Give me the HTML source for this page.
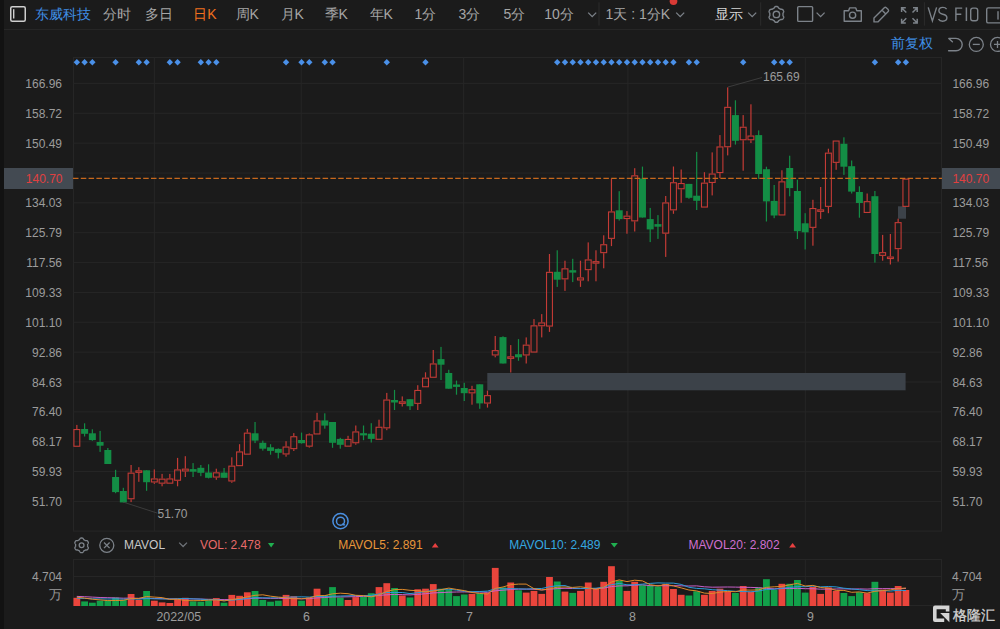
<!DOCTYPE html><html><head><meta charset="utf-8"><style>
html,body{margin:0;padding:0;width:1000px;height:629px;overflow:hidden;background:#1b1b1b;}
body{position:relative;font-family:"Liberation Sans",sans-serif;}
svg{position:absolute;left:0;top:0;}
</style></head><body>
<svg width="1000" height="629" viewBox="0 0 1000 629" font-family="Liberation Sans, sans-serif">

<rect x="0" y="0" width="4" height="629" fill="#121212"/>
<rect x="4" y="29" width="996" height="1" fill="#262626"/>
<g fill="#262626">
<rect x="73" y="57" width="869" height="1"/>
<rect x="73" y="57" width="1" height="474"/>
<rect x="941" y="57" width="1" height="474"/>
<rect x="73" y="82.90" width="869" height="1"/>
<rect x="73" y="112.76" width="869" height="1"/>
<rect x="73" y="142.62" width="869" height="1"/>
<rect x="73" y="172.48" width="869" height="1"/>
<rect x="73" y="202.34" width="869" height="1"/>
<rect x="73" y="232.20" width="869" height="1"/>
<rect x="73" y="262.06" width="869" height="1"/>
<rect x="73" y="291.92" width="869" height="1"/>
<rect x="73" y="321.78" width="869" height="1"/>
<rect x="73" y="351.64" width="869" height="1"/>
<rect x="73" y="381.50" width="869" height="1"/>
<rect x="73" y="411.36" width="869" height="1"/>
<rect x="73" y="441.22" width="869" height="1"/>
<rect x="73" y="471.08" width="869" height="1"/>
<rect x="73" y="500.94" width="869" height="1"/>
<rect x="73" y="530.60" width="869" height="1"/>
<rect x="153.90" y="57" width="1" height="474"/>
<rect x="153.90" y="559.5" width="1" height="46.5"/>
<rect x="300.70" y="57" width="1" height="474"/>
<rect x="300.70" y="559.5" width="1" height="46.5"/>
<rect x="463.10" y="57" width="1" height="474"/>
<rect x="463.10" y="559.5" width="1" height="46.5"/>
<rect x="627.40" y="57" width="1" height="474"/>
<rect x="627.40" y="559.5" width="1" height="46.5"/>
<rect x="804.80" y="57" width="1" height="474"/>
<rect x="804.80" y="559.5" width="1" height="46.5"/>
<rect x="73" y="559" width="869" height="1"/>
<rect x="73" y="576" width="869" height="1"/>
<rect x="73" y="605" width="869" height="1"/>
<rect x="73" y="559" width="1" height="47"/>
<rect x="941" y="559" width="1" height="47"/>
</g>
<rect x="4" y="168" width="69" height="21" fill="#434a52"/>
<rect x="942" y="168" width="58" height="21" fill="#434a52"/>
<rect x="487.3" y="373" width="418.3" height="17.3" fill="#3c4249"/>
<rect x="898" y="206.3" width="8" height="12.4" fill="#3c4249"/>
<rect x="76.25" y="424.90" width="1.2" height="4.10" fill="#c43b36"/>
<rect x="73.90" y="429.55" width="5.90" height="16.70" fill="none" stroke="#c43b36" stroke-width="1.1"/>
<rect x="84.00" y="423.30" width="1.2" height="13.20" fill="#138d45"/>
<rect x="81.10" y="429.00" width="7.00" height="4.80" fill="#138d45"/>
<rect x="91.75" y="429.30" width="1.2" height="11.50" fill="#138d45"/>
<rect x="88.85" y="433.30" width="7.00" height="6.80" fill="#138d45"/>
<rect x="99.49" y="430.90" width="1.2" height="21.00" fill="#138d45"/>
<rect x="96.59" y="442.00" width="7.00" height="3.70" fill="#138d45"/>
<rect x="107.24" y="448.00" width="1.2" height="16.00" fill="#138d45"/>
<rect x="104.34" y="450.00" width="7.00" height="14.00" fill="#138d45"/>
<rect x="114.99" y="469.80" width="1.2" height="23.40" fill="#138d45"/>
<rect x="112.09" y="477.00" width="7.00" height="15.10" fill="#138d45"/>
<rect x="122.74" y="487.80" width="1.2" height="14.60" fill="#138d45"/>
<rect x="119.84" y="491.00" width="7.00" height="11.40" fill="#138d45"/>
<rect x="130.49" y="465.00" width="1.2" height="7.60" fill="#c43b36"/>
<rect x="130.49" y="499.30" width="1.2" height="2.80" fill="#c43b36"/>
<rect x="128.14" y="473.15" width="5.90" height="25.60" fill="none" stroke="#c43b36" stroke-width="1.1"/>
<rect x="138.23" y="467.20" width="1.2" height="3.10" fill="#c43b36"/>
<rect x="138.23" y="472.90" width="1.2" height="8.90" fill="#c43b36"/>
<rect x="135.88" y="470.85" width="5.90" height="1.50" fill="none" stroke="#c43b36" stroke-width="1.1"/>
<rect x="145.98" y="470.30" width="1.2" height="20.50" fill="#138d45"/>
<rect x="143.08" y="470.30" width="7.00" height="11.90" fill="#138d45"/>
<rect x="153.73" y="469.40" width="1.2" height="9.00" fill="#c43b36"/>
<rect x="153.73" y="482.50" width="1.2" height="1.40" fill="#c43b36"/>
<rect x="151.38" y="478.95" width="5.90" height="3.00" fill="none" stroke="#c43b36" stroke-width="1.1"/>
<rect x="161.48" y="473.90" width="1.2" height="4.70" fill="#c43b36"/>
<rect x="161.48" y="483.70" width="1.2" height="2.60" fill="#c43b36"/>
<rect x="159.13" y="479.15" width="5.90" height="4.00" fill="none" stroke="#c43b36" stroke-width="1.1"/>
<rect x="169.23" y="473.90" width="1.2" height="4.50" fill="#c43b36"/>
<rect x="166.88" y="478.95" width="5.90" height="4.20" fill="none" stroke="#c43b36" stroke-width="1.1"/>
<rect x="176.97" y="457.90" width="1.2" height="11.50" fill="#c43b36"/>
<rect x="176.97" y="480.80" width="1.2" height="5.50" fill="#c43b36"/>
<rect x="174.62" y="469.95" width="5.90" height="10.30" fill="none" stroke="#c43b36" stroke-width="1.1"/>
<rect x="184.72" y="456.20" width="1.2" height="12.40" fill="#c43b36"/>
<rect x="184.72" y="471.50" width="1.2" height="5.50" fill="#c43b36"/>
<rect x="182.37" y="469.15" width="5.90" height="1.80" fill="none" stroke="#c43b36" stroke-width="1.1"/>
<rect x="192.47" y="463.10" width="1.2" height="13.90" fill="#138d45"/>
<rect x="189.57" y="469.10" width="7.00" height="2.60" fill="#138d45"/>
<rect x="200.22" y="465.00" width="1.2" height="11.20" fill="#138d45"/>
<rect x="197.32" y="467.80" width="7.00" height="5.00" fill="#138d45"/>
<rect x="207.97" y="464.30" width="1.2" height="14.10" fill="#138d45"/>
<rect x="205.07" y="472.50" width="7.00" height="5.30" fill="#138d45"/>
<rect x="215.71" y="468.70" width="1.2" height="3.60" fill="#c43b36"/>
<rect x="215.71" y="477.60" width="1.2" height="2.20" fill="#c43b36"/>
<rect x="213.36" y="472.85" width="5.90" height="4.20" fill="none" stroke="#c43b36" stroke-width="1.1"/>
<rect x="223.46" y="468.00" width="1.2" height="9.80" fill="#138d45"/>
<rect x="220.56" y="472.60" width="7.00" height="5.20" fill="#138d45"/>
<rect x="231.21" y="457.30" width="1.2" height="8.30" fill="#c43b36"/>
<rect x="231.21" y="481.50" width="1.2" height="1.30" fill="#c43b36"/>
<rect x="228.86" y="466.15" width="5.90" height="14.80" fill="none" stroke="#c43b36" stroke-width="1.1"/>
<rect x="238.96" y="444.20" width="1.2" height="7.20" fill="#c43b36"/>
<rect x="236.61" y="451.95" width="5.90" height="13.70" fill="none" stroke="#c43b36" stroke-width="1.1"/>
<rect x="246.71" y="428.90" width="1.2" height="3.70" fill="#c43b36"/>
<rect x="244.36" y="433.15" width="5.90" height="21.00" fill="none" stroke="#c43b36" stroke-width="1.1"/>
<rect x="254.45" y="422.00" width="1.2" height="21.10" fill="#138d45"/>
<rect x="251.55" y="433.30" width="7.00" height="7.30" fill="#138d45"/>
<rect x="262.20" y="440.60" width="1.2" height="10.00" fill="#138d45"/>
<rect x="259.30" y="442.80" width="7.00" height="5.90" fill="#138d45"/>
<rect x="269.95" y="444.20" width="1.2" height="10.50" fill="#138d45"/>
<rect x="267.05" y="447.30" width="7.00" height="3.60" fill="#138d45"/>
<rect x="277.70" y="448.40" width="1.2" height="10.00" fill="#138d45"/>
<rect x="274.80" y="448.90" width="7.00" height="3.90" fill="#138d45"/>
<rect x="285.45" y="441.20" width="1.2" height="5.30" fill="#c43b36"/>
<rect x="285.45" y="454.50" width="1.2" height="2.20" fill="#c43b36"/>
<rect x="283.10" y="447.05" width="5.90" height="6.90" fill="none" stroke="#c43b36" stroke-width="1.1"/>
<rect x="293.19" y="433.10" width="1.2" height="3.10" fill="#c43b36"/>
<rect x="293.19" y="449.20" width="1.2" height="1.80" fill="#c43b36"/>
<rect x="290.84" y="436.75" width="5.90" height="11.90" fill="none" stroke="#c43b36" stroke-width="1.1"/>
<rect x="300.94" y="432.60" width="1.2" height="11.00" fill="#138d45"/>
<rect x="298.04" y="440.00" width="7.00" height="3.20" fill="#138d45"/>
<rect x="308.69" y="433.40" width="1.2" height="0.90" fill="#c43b36"/>
<rect x="308.69" y="446.70" width="1.2" height="0.90" fill="#c43b36"/>
<rect x="306.34" y="434.85" width="5.90" height="11.30" fill="none" stroke="#c43b36" stroke-width="1.1"/>
<rect x="316.44" y="412.80" width="1.2" height="7.60" fill="#c43b36"/>
<rect x="314.09" y="420.95" width="5.90" height="13.00" fill="none" stroke="#c43b36" stroke-width="1.1"/>
<rect x="324.19" y="413.30" width="1.2" height="15.40" fill="#138d45"/>
<rect x="321.29" y="420.40" width="7.00" height="5.20" fill="#138d45"/>
<rect x="331.93" y="422.00" width="1.2" height="25.80" fill="#138d45"/>
<rect x="329.03" y="422.00" width="7.00" height="20.80" fill="#138d45"/>
<rect x="339.68" y="437.80" width="1.2" height="10.90" fill="#138d45"/>
<rect x="336.78" y="438.90" width="7.00" height="5.90" fill="#138d45"/>
<rect x="347.43" y="435.80" width="1.2" height="3.10" fill="#c43b36"/>
<rect x="345.08" y="439.45" width="5.90" height="6.70" fill="none" stroke="#c43b36" stroke-width="1.1"/>
<rect x="355.18" y="425.50" width="1.2" height="5.90" fill="#c43b36"/>
<rect x="355.18" y="443.30" width="1.2" height="1.40" fill="#c43b36"/>
<rect x="352.83" y="431.95" width="5.90" height="10.80" fill="none" stroke="#c43b36" stroke-width="1.1"/>
<rect x="362.93" y="425.50" width="1.2" height="14.70" fill="#138d45"/>
<rect x="360.03" y="433.20" width="7.00" height="2.20" fill="#138d45"/>
<rect x="370.67" y="423.20" width="1.2" height="19.30" fill="#138d45"/>
<rect x="367.77" y="433.70" width="7.00" height="5.20" fill="#138d45"/>
<rect x="378.42" y="419.70" width="1.2" height="7.00" fill="#c43b36"/>
<rect x="376.07" y="427.25" width="5.90" height="12.00" fill="none" stroke="#c43b36" stroke-width="1.1"/>
<rect x="386.17" y="392.90" width="1.2" height="6.60" fill="#c43b36"/>
<rect x="386.17" y="428.40" width="1.2" height="1.80" fill="#c43b36"/>
<rect x="383.82" y="400.05" width="5.90" height="27.80" fill="none" stroke="#c43b36" stroke-width="1.1"/>
<rect x="393.92" y="389.90" width="1.2" height="20.10" fill="#138d45"/>
<rect x="391.02" y="400.00" width="7.00" height="2.50" fill="#138d45"/>
<rect x="401.67" y="396.40" width="1.2" height="4.90" fill="#c43b36"/>
<rect x="401.67" y="403.90" width="1.2" height="2.60" fill="#c43b36"/>
<rect x="399.32" y="401.85" width="5.90" height="1.50" fill="none" stroke="#c43b36" stroke-width="1.1"/>
<rect x="409.41" y="399.20" width="1.2" height="10.80" fill="#138d45"/>
<rect x="406.51" y="399.20" width="7.00" height="7.00" fill="#138d45"/>
<rect x="417.16" y="385.20" width="1.2" height="4.70" fill="#c43b36"/>
<rect x="417.16" y="403.90" width="1.2" height="6.10" fill="#c43b36"/>
<rect x="414.81" y="390.45" width="5.90" height="12.90" fill="none" stroke="#c43b36" stroke-width="1.1"/>
<rect x="424.91" y="372.30" width="1.2" height="5.30" fill="#c43b36"/>
<rect x="422.56" y="378.15" width="5.90" height="8.60" fill="none" stroke="#c43b36" stroke-width="1.1"/>
<rect x="432.66" y="350.00" width="1.2" height="13.40" fill="#c43b36"/>
<rect x="430.31" y="363.95" width="5.90" height="13.30" fill="none" stroke="#c43b36" stroke-width="1.1"/>
<rect x="440.41" y="346.90" width="1.2" height="33.10" fill="#138d45"/>
<rect x="437.51" y="359.10" width="7.00" height="5.60" fill="#138d45"/>
<rect x="448.15" y="369.80" width="1.2" height="18.90" fill="#138d45"/>
<rect x="445.25" y="373.00" width="7.00" height="15.70" fill="#138d45"/>
<rect x="455.90" y="380.60" width="1.2" height="14.10" fill="#138d45"/>
<rect x="453.00" y="384.50" width="7.00" height="2.40" fill="#138d45"/>
<rect x="463.65" y="382.80" width="1.2" height="18.20" fill="#138d45"/>
<rect x="460.75" y="388.00" width="7.00" height="5.20" fill="#138d45"/>
<rect x="471.40" y="385.80" width="1.2" height="3.40" fill="#c43b36"/>
<rect x="471.40" y="393.40" width="1.2" height="11.30" fill="#c43b36"/>
<rect x="469.05" y="389.75" width="5.90" height="3.10" fill="none" stroke="#c43b36" stroke-width="1.1"/>
<rect x="479.15" y="384.30" width="1.2" height="24.50" fill="#138d45"/>
<rect x="476.25" y="384.30" width="7.00" height="19.10" fill="#138d45"/>
<rect x="486.89" y="390.60" width="1.2" height="4.50" fill="#c43b36"/>
<rect x="486.89" y="403.60" width="1.2" height="4.00" fill="#c43b36"/>
<rect x="484.54" y="395.65" width="5.90" height="7.40" fill="none" stroke="#c43b36" stroke-width="1.1"/>
<rect x="494.64" y="336.00" width="1.2" height="14.10" fill="#c43b36"/>
<rect x="494.64" y="355.50" width="1.2" height="1.80" fill="#c43b36"/>
<rect x="492.29" y="350.65" width="5.90" height="4.30" fill="none" stroke="#c43b36" stroke-width="1.1"/>
<rect x="502.39" y="336.30" width="1.2" height="27.20" fill="#138d45"/>
<rect x="499.49" y="337.10" width="7.00" height="26.40" fill="#138d45"/>
<rect x="510.14" y="345.10" width="1.2" height="11.20" fill="#c43b36"/>
<rect x="510.14" y="358.60" width="1.2" height="13.90" fill="#c43b36"/>
<rect x="507.79" y="356.85" width="5.90" height="1.50" fill="none" stroke="#c43b36" stroke-width="1.1"/>
<rect x="517.89" y="339.10" width="1.2" height="21.70" fill="#138d45"/>
<rect x="514.99" y="354.20" width="7.00" height="3.10" fill="#138d45"/>
<rect x="525.63" y="337.40" width="1.2" height="7.20" fill="#c43b36"/>
<rect x="525.63" y="355.50" width="1.2" height="8.00" fill="#c43b36"/>
<rect x="523.28" y="345.15" width="5.90" height="9.80" fill="none" stroke="#c43b36" stroke-width="1.1"/>
<rect x="533.38" y="319.10" width="1.2" height="6.20" fill="#c43b36"/>
<rect x="531.03" y="325.85" width="5.90" height="26.20" fill="none" stroke="#c43b36" stroke-width="1.1"/>
<rect x="541.13" y="314.10" width="1.2" height="8.30" fill="#c43b36"/>
<rect x="541.13" y="326.30" width="1.2" height="11.10" fill="#c43b36"/>
<rect x="538.78" y="322.95" width="5.90" height="2.80" fill="none" stroke="#c43b36" stroke-width="1.1"/>
<rect x="548.88" y="254.00" width="1.2" height="17.80" fill="#c43b36"/>
<rect x="548.88" y="326.60" width="1.2" height="5.30" fill="#c43b36"/>
<rect x="546.53" y="272.35" width="5.90" height="53.70" fill="none" stroke="#c43b36" stroke-width="1.1"/>
<rect x="556.63" y="250.30" width="1.2" height="36.60" fill="#138d45"/>
<rect x="553.73" y="271.80" width="7.00" height="7.90" fill="#138d45"/>
<rect x="564.37" y="260.70" width="1.2" height="7.60" fill="#c43b36"/>
<rect x="564.37" y="279.40" width="1.2" height="11.50" fill="#c43b36"/>
<rect x="562.02" y="268.85" width="5.90" height="10.00" fill="none" stroke="#c43b36" stroke-width="1.1"/>
<rect x="572.12" y="258.80" width="1.2" height="23.30" fill="#138d45"/>
<rect x="569.22" y="270.20" width="7.00" height="2.40" fill="#138d45"/>
<rect x="579.87" y="260.70" width="1.2" height="16.70" fill="#c43b36"/>
<rect x="579.87" y="280.50" width="1.2" height="6.40" fill="#c43b36"/>
<rect x="577.52" y="277.95" width="5.90" height="2.00" fill="none" stroke="#c43b36" stroke-width="1.1"/>
<rect x="587.62" y="242.40" width="1.2" height="17.00" fill="#c43b36"/>
<rect x="587.62" y="270.20" width="1.2" height="11.10" fill="#c43b36"/>
<rect x="585.27" y="259.95" width="5.90" height="9.70" fill="none" stroke="#c43b36" stroke-width="1.1"/>
<rect x="595.37" y="250.30" width="1.2" height="10.80" fill="#c43b36"/>
<rect x="595.37" y="263.50" width="1.2" height="17.80" fill="#c43b36"/>
<rect x="593.02" y="261.65" width="5.90" height="1.50" fill="none" stroke="#c43b36" stroke-width="1.1"/>
<rect x="603.11" y="235.30" width="1.2" height="8.90" fill="#c43b36"/>
<rect x="603.11" y="253.20" width="1.2" height="15.10" fill="#c43b36"/>
<rect x="600.76" y="244.75" width="5.90" height="7.90" fill="none" stroke="#c43b36" stroke-width="1.1"/>
<rect x="610.86" y="178.50" width="1.2" height="32.90" fill="#c43b36"/>
<rect x="610.86" y="238.90" width="1.2" height="7.20" fill="#c43b36"/>
<rect x="608.51" y="211.95" width="5.90" height="26.40" fill="none" stroke="#c43b36" stroke-width="1.1"/>
<rect x="618.61" y="191.20" width="1.2" height="29.40" fill="#138d45"/>
<rect x="615.71" y="210.30" width="7.00" height="8.80" fill="#138d45"/>
<rect x="626.36" y="211.10" width="1.2" height="4.50" fill="#c43b36"/>
<rect x="626.36" y="219.10" width="1.2" height="14.60" fill="#c43b36"/>
<rect x="624.01" y="216.15" width="5.90" height="2.40" fill="none" stroke="#c43b36" stroke-width="1.1"/>
<rect x="634.11" y="168.20" width="1.2" height="7.10" fill="#c43b36"/>
<rect x="634.11" y="221.40" width="1.2" height="10.10" fill="#c43b36"/>
<rect x="631.76" y="175.85" width="5.90" height="45.00" fill="none" stroke="#c43b36" stroke-width="1.1"/>
<rect x="641.85" y="166.60" width="1.2" height="50.90" fill="#138d45"/>
<rect x="638.95" y="178.50" width="7.00" height="39.00" fill="#138d45"/>
<rect x="649.60" y="207.90" width="1.2" height="34.20" fill="#138d45"/>
<rect x="646.70" y="219.10" width="7.00" height="10.30" fill="#138d45"/>
<rect x="657.35" y="215.10" width="1.2" height="23.80" fill="#138d45"/>
<rect x="654.45" y="224.10" width="7.00" height="2.60" fill="#138d45"/>
<rect x="665.10" y="196.00" width="1.2" height="6.40" fill="#c43b36"/>
<rect x="665.10" y="233.70" width="1.2" height="23.20" fill="#c43b36"/>
<rect x="662.75" y="202.95" width="5.90" height="30.20" fill="none" stroke="#c43b36" stroke-width="1.1"/>
<rect x="672.85" y="166.50" width="1.2" height="15.70" fill="#c43b36"/>
<rect x="672.85" y="210.40" width="1.2" height="3.40" fill="#c43b36"/>
<rect x="670.50" y="182.75" width="5.90" height="27.10" fill="none" stroke="#c43b36" stroke-width="1.1"/>
<rect x="680.59" y="169.50" width="1.2" height="13.50" fill="#c43b36"/>
<rect x="680.59" y="189.30" width="1.2" height="13.50" fill="#c43b36"/>
<rect x="678.24" y="183.55" width="5.90" height="5.20" fill="none" stroke="#c43b36" stroke-width="1.1"/>
<rect x="688.34" y="183.90" width="1.2" height="14.90" fill="#138d45"/>
<rect x="685.44" y="183.90" width="7.00" height="13.90" fill="#138d45"/>
<rect x="696.09" y="151.90" width="1.2" height="58.10" fill="#138d45"/>
<rect x="693.19" y="195.70" width="7.00" height="5.10" fill="#138d45"/>
<rect x="703.84" y="172.20" width="1.2" height="10.40" fill="#c43b36"/>
<rect x="701.49" y="183.15" width="5.90" height="23.90" fill="none" stroke="#c43b36" stroke-width="1.1"/>
<rect x="711.59" y="152.40" width="1.2" height="21.10" fill="#c43b36"/>
<rect x="711.59" y="183.00" width="1.2" height="12.40" fill="#c43b36"/>
<rect x="709.24" y="174.05" width="5.90" height="8.40" fill="none" stroke="#c43b36" stroke-width="1.1"/>
<rect x="719.33" y="135.10" width="1.2" height="11.30" fill="#c43b36"/>
<rect x="719.33" y="173.10" width="1.2" height="5.00" fill="#c43b36"/>
<rect x="716.98" y="146.95" width="5.90" height="25.60" fill="none" stroke="#c43b36" stroke-width="1.1"/>
<rect x="727.08" y="87.40" width="1.2" height="19.40" fill="#c43b36"/>
<rect x="727.08" y="147.30" width="1.2" height="8.10" fill="#c43b36"/>
<rect x="724.73" y="107.35" width="5.90" height="39.40" fill="none" stroke="#c43b36" stroke-width="1.1"/>
<rect x="734.83" y="100.30" width="1.2" height="44.30" fill="#138d45"/>
<rect x="731.93" y="115.10" width="7.00" height="25.70" fill="#138d45"/>
<rect x="742.58" y="115.10" width="1.2" height="11.60" fill="#c43b36"/>
<rect x="742.58" y="140.30" width="1.2" height="30.40" fill="#c43b36"/>
<rect x="740.23" y="127.25" width="5.90" height="12.50" fill="none" stroke="#c43b36" stroke-width="1.1"/>
<rect x="750.33" y="104.30" width="1.2" height="31.20" fill="#c43b36"/>
<rect x="750.33" y="140.30" width="1.2" height="2.70" fill="#c43b36"/>
<rect x="747.98" y="136.05" width="5.90" height="3.70" fill="none" stroke="#c43b36" stroke-width="1.1"/>
<rect x="758.07" y="130.40" width="1.2" height="48.50" fill="#138d45"/>
<rect x="755.17" y="135.10" width="7.00" height="38.90" fill="#138d45"/>
<rect x="765.82" y="166.70" width="1.2" height="54.80" fill="#138d45"/>
<rect x="762.92" y="169.20" width="7.00" height="32.20" fill="#138d45"/>
<rect x="773.57" y="185.00" width="1.2" height="33.20" fill="#138d45"/>
<rect x="770.67" y="200.90" width="7.00" height="14.60" fill="#138d45"/>
<rect x="781.32" y="170.30" width="1.2" height="11.00" fill="#c43b36"/>
<rect x="778.97" y="181.85" width="5.90" height="33.10" fill="none" stroke="#c43b36" stroke-width="1.1"/>
<rect x="789.07" y="155.70" width="1.2" height="40.60" fill="#138d45"/>
<rect x="786.17" y="168.00" width="7.00" height="20.10" fill="#138d45"/>
<rect x="796.81" y="179.70" width="1.2" height="59.30" fill="#138d45"/>
<rect x="793.91" y="191.00" width="7.00" height="40.20" fill="#138d45"/>
<rect x="804.56" y="213.20" width="1.2" height="36.30" fill="#138d45"/>
<rect x="801.66" y="223.30" width="7.00" height="9.00" fill="#138d45"/>
<rect x="812.31" y="199.80" width="1.2" height="8.20" fill="#c43b36"/>
<rect x="812.31" y="227.90" width="1.2" height="17.80" fill="#c43b36"/>
<rect x="809.96" y="208.55" width="5.90" height="18.80" fill="none" stroke="#c43b36" stroke-width="1.1"/>
<rect x="820.06" y="187.00" width="1.2" height="22.30" fill="#c43b36"/>
<rect x="820.06" y="211.30" width="1.2" height="7.60" fill="#c43b36"/>
<rect x="817.71" y="209.85" width="5.90" height="1.50" fill="none" stroke="#c43b36" stroke-width="1.1"/>
<rect x="827.81" y="148.70" width="1.2" height="3.90" fill="#c43b36"/>
<rect x="827.81" y="206.90" width="1.2" height="6.30" fill="#c43b36"/>
<rect x="825.46" y="153.15" width="5.90" height="53.20" fill="none" stroke="#c43b36" stroke-width="1.1"/>
<rect x="835.55" y="162.90" width="1.2" height="6.90" fill="#c43b36"/>
<rect x="833.20" y="141.05" width="5.90" height="21.30" fill="none" stroke="#c43b36" stroke-width="1.1"/>
<rect x="843.30" y="137.30" width="1.2" height="37.60" fill="#138d45"/>
<rect x="840.40" y="143.80" width="7.00" height="22.90" fill="#138d45"/>
<rect x="851.05" y="160.50" width="1.2" height="33.00" fill="#138d45"/>
<rect x="848.15" y="166.20" width="7.00" height="25.40" fill="#138d45"/>
<rect x="858.80" y="186.30" width="1.2" height="31.40" fill="#138d45"/>
<rect x="855.90" y="192.00" width="7.00" height="11.00" fill="#138d45"/>
<rect x="866.55" y="193.50" width="1.2" height="7.60" fill="#c43b36"/>
<rect x="864.20" y="201.65" width="5.90" height="10.80" fill="none" stroke="#c43b36" stroke-width="1.1"/>
<rect x="874.29" y="191.00" width="1.2" height="71.60" fill="#138d45"/>
<rect x="871.39" y="196.20" width="7.00" height="57.80" fill="#138d45"/>
<rect x="882.04" y="234.90" width="1.2" height="17.20" fill="#c43b36"/>
<rect x="882.04" y="255.90" width="1.2" height="4.80" fill="#c43b36"/>
<rect x="879.69" y="252.65" width="5.90" height="2.70" fill="none" stroke="#c43b36" stroke-width="1.1"/>
<rect x="889.79" y="234.00" width="1.2" height="22.50" fill="#c43b36"/>
<rect x="889.79" y="258.80" width="1.2" height="5.70" fill="#c43b36"/>
<rect x="887.44" y="257.05" width="5.90" height="1.50" fill="none" stroke="#c43b36" stroke-width="1.1"/>
<rect x="897.54" y="218.70" width="1.2" height="3.40" fill="#c43b36"/>
<rect x="897.54" y="249.20" width="1.2" height="12.40" fill="#c43b36"/>
<rect x="895.19" y="222.65" width="5.90" height="26.00" fill="none" stroke="#c43b36" stroke-width="1.1"/>
<rect x="902.94" y="179.15" width="5.90" height="27.20" fill="none" stroke="#c43b36" stroke-width="1.1"/>
<line x1="73" y1="178.4" x2="942" y2="178.4" stroke="#c8681c" stroke-width="1.2" stroke-dasharray="5.5 2.3"/>
<rect x="73.45" y="597.80" width="6.8" height="8.20" fill="#ea453c"/>
<rect x="81.20" y="601.40" width="6.8" height="4.60" fill="#12a04a"/>
<rect x="88.95" y="602.70" width="6.8" height="3.30" fill="#12a04a"/>
<rect x="96.69" y="600.70" width="6.8" height="5.30" fill="#12a04a"/>
<rect x="104.44" y="600.40" width="6.8" height="5.60" fill="#12a04a"/>
<rect x="112.19" y="597.50" width="6.8" height="8.50" fill="#12a04a"/>
<rect x="119.94" y="600.00" width="6.8" height="6.00" fill="#12a04a"/>
<rect x="127.69" y="594.00" width="6.8" height="12.00" fill="#ea453c"/>
<rect x="135.43" y="600.00" width="6.8" height="6.00" fill="#ea453c"/>
<rect x="143.18" y="591.00" width="6.8" height="15.00" fill="#12a04a"/>
<rect x="150.93" y="600.70" width="6.8" height="5.30" fill="#ea453c"/>
<rect x="158.68" y="602.40" width="6.8" height="3.60" fill="#ea453c"/>
<rect x="166.43" y="603.00" width="6.8" height="3.00" fill="#ea453c"/>
<rect x="174.17" y="599.10" width="6.8" height="6.90" fill="#ea453c"/>
<rect x="181.92" y="597.80" width="6.8" height="8.20" fill="#ea453c"/>
<rect x="189.67" y="601.40" width="6.8" height="4.60" fill="#12a04a"/>
<rect x="197.42" y="601.70" width="6.8" height="4.30" fill="#12a04a"/>
<rect x="205.17" y="600.40" width="6.8" height="5.60" fill="#12a04a"/>
<rect x="212.91" y="598.10" width="6.8" height="7.90" fill="#ea453c"/>
<rect x="220.66" y="602.70" width="6.8" height="3.30" fill="#12a04a"/>
<rect x="228.41" y="594.90" width="6.8" height="11.10" fill="#ea453c"/>
<rect x="236.16" y="595.80" width="6.8" height="10.20" fill="#ea453c"/>
<rect x="243.91" y="592.30" width="6.8" height="13.70" fill="#ea453c"/>
<rect x="251.65" y="591.00" width="6.8" height="15.00" fill="#12a04a"/>
<rect x="259.40" y="600.00" width="6.8" height="6.00" fill="#12a04a"/>
<rect x="267.15" y="601.70" width="6.8" height="4.30" fill="#12a04a"/>
<rect x="274.90" y="600.70" width="6.8" height="5.30" fill="#12a04a"/>
<rect x="282.65" y="594.90" width="6.8" height="11.10" fill="#ea453c"/>
<rect x="290.39" y="596.20" width="6.8" height="9.80" fill="#ea453c"/>
<rect x="298.14" y="600.70" width="6.8" height="5.30" fill="#12a04a"/>
<rect x="305.89" y="597.50" width="6.8" height="8.50" fill="#ea453c"/>
<rect x="313.64" y="588.70" width="6.8" height="17.30" fill="#ea453c"/>
<rect x="321.39" y="595.00" width="6.8" height="11.00" fill="#12a04a"/>
<rect x="329.13" y="587.10" width="6.8" height="18.90" fill="#12a04a"/>
<rect x="336.88" y="597.50" width="6.8" height="8.50" fill="#12a04a"/>
<rect x="344.63" y="600.00" width="6.8" height="6.00" fill="#ea453c"/>
<rect x="352.38" y="597.10" width="6.8" height="8.90" fill="#ea453c"/>
<rect x="360.13" y="596.50" width="6.8" height="9.50" fill="#12a04a"/>
<rect x="367.87" y="593.20" width="6.8" height="12.80" fill="#12a04a"/>
<rect x="375.62" y="587.10" width="6.8" height="18.90" fill="#ea453c"/>
<rect x="383.37" y="583.20" width="6.8" height="22.80" fill="#ea453c"/>
<rect x="391.12" y="588.00" width="6.8" height="18.00" fill="#12a04a"/>
<rect x="398.87" y="595.50" width="6.8" height="10.50" fill="#ea453c"/>
<rect x="406.61" y="597.50" width="6.8" height="8.50" fill="#12a04a"/>
<rect x="414.36" y="589.30" width="6.8" height="16.70" fill="#ea453c"/>
<rect x="422.11" y="588.70" width="6.8" height="17.30" fill="#ea453c"/>
<rect x="429.86" y="584.10" width="6.8" height="21.90" fill="#ea453c"/>
<rect x="437.61" y="588.70" width="6.8" height="17.30" fill="#12a04a"/>
<rect x="445.35" y="589.50" width="6.8" height="16.50" fill="#12a04a"/>
<rect x="453.10" y="596.10" width="6.8" height="9.90" fill="#12a04a"/>
<rect x="460.85" y="594.50" width="6.8" height="11.50" fill="#12a04a"/>
<rect x="468.60" y="593.90" width="6.8" height="12.10" fill="#ea453c"/>
<rect x="476.35" y="593.20" width="6.8" height="12.80" fill="#12a04a"/>
<rect x="484.09" y="592.60" width="6.8" height="13.40" fill="#ea453c"/>
<rect x="491.84" y="567.90" width="6.8" height="38.10" fill="#ea453c"/>
<rect x="499.59" y="587.40" width="6.8" height="18.60" fill="#12a04a"/>
<rect x="507.34" y="582.50" width="6.8" height="23.50" fill="#ea453c"/>
<rect x="515.09" y="590.30" width="6.8" height="15.70" fill="#12a04a"/>
<rect x="522.83" y="592.60" width="6.8" height="13.40" fill="#ea453c"/>
<rect x="530.58" y="590.90" width="6.8" height="15.10" fill="#ea453c"/>
<rect x="538.33" y="593.90" width="6.8" height="12.10" fill="#ea453c"/>
<rect x="546.08" y="577.00" width="6.8" height="29.00" fill="#ea453c"/>
<rect x="553.83" y="581.50" width="6.8" height="24.50" fill="#12a04a"/>
<rect x="561.57" y="591.60" width="6.8" height="14.40" fill="#ea453c"/>
<rect x="569.32" y="592.90" width="6.8" height="13.10" fill="#12a04a"/>
<rect x="577.07" y="590.90" width="6.8" height="15.10" fill="#ea453c"/>
<rect x="584.82" y="582.50" width="6.8" height="23.50" fill="#ea453c"/>
<rect x="592.57" y="588.70" width="6.8" height="17.30" fill="#ea453c"/>
<rect x="600.31" y="581.80" width="6.8" height="24.20" fill="#ea453c"/>
<rect x="608.06" y="566.20" width="6.8" height="39.80" fill="#ea453c"/>
<rect x="615.81" y="580.50" width="6.8" height="25.50" fill="#12a04a"/>
<rect x="623.56" y="590.90" width="6.8" height="15.10" fill="#ea453c"/>
<rect x="631.31" y="581.80" width="6.8" height="24.20" fill="#ea453c"/>
<rect x="639.05" y="585.10" width="6.8" height="20.90" fill="#12a04a"/>
<rect x="646.80" y="585.10" width="6.8" height="20.90" fill="#12a04a"/>
<rect x="654.55" y="586.40" width="6.8" height="19.60" fill="#12a04a"/>
<rect x="662.30" y="584.10" width="6.8" height="21.90" fill="#ea453c"/>
<rect x="670.05" y="589.00" width="6.8" height="17.00" fill="#ea453c"/>
<rect x="677.79" y="594.80" width="6.8" height="11.20" fill="#ea453c"/>
<rect x="685.54" y="595.50" width="6.8" height="10.50" fill="#12a04a"/>
<rect x="693.29" y="591.30" width="6.8" height="14.70" fill="#12a04a"/>
<rect x="701.04" y="594.80" width="6.8" height="11.20" fill="#ea453c"/>
<rect x="708.79" y="590.90" width="6.8" height="15.10" fill="#ea453c"/>
<rect x="716.53" y="588.70" width="6.8" height="17.30" fill="#ea453c"/>
<rect x="724.28" y="591.30" width="6.8" height="14.70" fill="#ea453c"/>
<rect x="732.03" y="593.00" width="6.8" height="13.00" fill="#12a04a"/>
<rect x="739.78" y="586.00" width="6.8" height="20.00" fill="#ea453c"/>
<rect x="747.53" y="591.60" width="6.8" height="14.40" fill="#ea453c"/>
<rect x="755.27" y="587.40" width="6.8" height="18.60" fill="#12a04a"/>
<rect x="763.02" y="579.20" width="6.8" height="26.80" fill="#12a04a"/>
<rect x="770.77" y="590.00" width="6.8" height="16.00" fill="#12a04a"/>
<rect x="778.52" y="583.80" width="6.8" height="22.20" fill="#ea453c"/>
<rect x="786.27" y="583.80" width="6.8" height="22.20" fill="#12a04a"/>
<rect x="794.01" y="580.00" width="6.8" height="26.00" fill="#12a04a"/>
<rect x="801.76" y="592.60" width="6.8" height="13.40" fill="#12a04a"/>
<rect x="809.51" y="587.00" width="6.8" height="19.00" fill="#ea453c"/>
<rect x="817.26" y="593.90" width="6.8" height="12.10" fill="#ea453c"/>
<rect x="825.01" y="587.40" width="6.8" height="18.60" fill="#ea453c"/>
<rect x="832.75" y="590.90" width="6.8" height="15.10" fill="#ea453c"/>
<rect x="840.50" y="593.00" width="6.8" height="13.00" fill="#12a04a"/>
<rect x="848.25" y="596.10" width="6.8" height="9.90" fill="#12a04a"/>
<rect x="856.00" y="592.20" width="6.8" height="13.80" fill="#12a04a"/>
<rect x="863.75" y="593.20" width="6.8" height="12.80" fill="#ea453c"/>
<rect x="871.49" y="581.80" width="6.8" height="24.20" fill="#12a04a"/>
<rect x="879.24" y="589.60" width="6.8" height="16.40" fill="#ea453c"/>
<rect x="886.99" y="592.60" width="6.8" height="13.40" fill="#ea453c"/>
<rect x="894.74" y="586.00" width="6.8" height="20.00" fill="#ea453c"/>
<rect x="902.49" y="590.00" width="6.8" height="16.00" fill="#ea453c"/>
<path d="M76.8,596.4 L84.6,596.7 L92.3,597.1 L100.1,597.5 L107.8,597.7 L115.6,597.9 L123.3,598.2 L131.1,598.1 L138.8,598.4 L146.6,598.2 L154.3,598.5 L162.1,598.7 L169.8,598.9 L177.6,598.9 L185.3,598.8 L193.1,598.9 L200.8,599.1 L208.6,599.3 L216.3,599.4 L224.1,599.6 L231.8,599.5 L239.6,599.2 L247.3,598.7 L255.1,598.2 L262.8,598.2 L270.6,598.4 L278.3,598.4 L286.0,598.5 L293.8,598.3 L301.5,598.8 L309.3,598.6 L317.0,597.9 L324.8,597.5 L332.5,596.9 L340.3,596.9 L348.0,596.8 L355.8,596.6 L363.5,596.4 L371.3,596.2 L379.0,595.4 L386.8,594.8 L394.5,594.4 L402.3,594.6 L410.0,594.9 L417.8,594.4 L425.5,593.7 L433.3,592.9 L441.0,592.6 L448.8,592.2 L456.5,592.0 L464.2,591.9 L472.0,592.1 L479.7,592.0 L487.5,592.3 L495.2,590.8 L503.0,590.2 L510.7,589.5 L518.5,589.2 L526.2,589.1 L534.0,589.3 L541.7,589.9 L549.5,589.3 L557.2,588.6 L565.0,588.3 L572.7,588.5 L580.5,588.6 L588.2,588.5 L596.0,588.5 L603.7,588.1 L611.5,586.6 L619.2,585.9 L627.0,585.8 L634.7,585.2 L642.5,584.8 L650.2,585.7 L658.0,585.7 L665.7,585.7 L673.4,585.7 L681.2,585.8 L688.9,586.0 L696.7,585.9 L704.4,586.8 L712.2,587.2 L719.9,587.1 L727.7,587.0 L735.4,587.1 L743.2,587.3 L750.9,587.4 L758.7,587.7 L766.4,588.4 L774.2,588.8 L781.9,588.5 L789.7,588.6 L797.4,588.3 L805.2,588.7 L812.9,588.7 L820.7,589.2 L828.4,589.1 L836.2,589.0 L843.9,588.8 L851.7,589.1 L859.4,588.9 L867.1,589.1 L874.9,588.7 L882.6,588.6 L890.4,588.6 L898.1,588.6 L905.9,588.5" fill="none" stroke="#c860c8" stroke-width="1"/>
<path d="M76.8,598.2 L84.6,598.4 L92.3,598.8 L100.1,598.9 L107.8,599.0 L115.6,598.9 L123.3,599.2 L131.1,598.9 L138.8,599.2 L146.6,598.5 L154.3,598.8 L162.1,598.9 L169.8,599.0 L177.6,598.8 L185.3,598.5 L193.1,598.9 L200.8,599.1 L208.6,599.8 L216.3,599.6 L224.1,600.7 L231.8,600.1 L239.6,599.5 L247.3,598.4 L255.1,597.6 L262.8,597.8 L270.6,597.9 L278.3,597.8 L286.0,597.2 L293.8,597.0 L301.5,596.8 L309.3,597.1 L317.0,596.4 L324.8,596.6 L332.5,596.2 L340.3,596.0 L348.0,595.8 L355.8,595.5 L363.5,595.6 L371.3,595.3 L379.0,594.0 L386.8,592.5 L394.5,592.5 L402.3,592.5 L410.0,593.6 L417.8,592.7 L425.5,591.6 L433.3,590.3 L441.0,589.5 L448.8,589.2 L456.5,590.1 L464.2,591.2 L472.0,591.8 L479.7,591.5 L487.5,591.1 L495.2,588.9 L503.0,588.8 L510.7,588.6 L518.5,588.8 L526.2,589.1 L534.0,588.6 L541.7,588.5 L549.5,586.8 L557.2,585.7 L565.0,585.6 L572.7,588.1 L580.5,588.4 L588.2,588.4 L596.0,588.2 L603.7,587.2 L611.5,584.7 L619.2,583.4 L627.0,584.8 L634.7,584.8 L642.5,584.1 L650.2,583.4 L658.0,582.9 L665.7,583.1 L673.4,583.1 L681.2,584.4 L688.9,587.3 L696.7,588.4 L704.4,588.8 L712.2,589.7 L719.9,590.1 L727.7,590.7 L735.4,591.3 L743.2,591.5 L750.9,591.8 L758.7,591.0 L766.4,589.4 L774.2,589.3 L781.9,588.2 L789.7,587.5 L797.4,586.6 L805.2,586.7 L812.9,586.1 L820.7,586.9 L828.4,586.5 L836.2,586.9 L843.9,588.2 L851.7,588.9 L859.4,589.7 L867.1,590.6 L874.9,590.8 L882.6,590.5 L890.4,591.1 L898.1,590.3 L905.9,590.5" fill="none" stroke="#2a9ad8" stroke-width="1"/>
<path d="M76.8,597.2 L84.6,598.1 L92.3,599.2 L100.1,599.9 L107.8,600.6 L115.6,600.5 L123.3,600.3 L131.1,598.5 L138.8,598.4 L146.6,596.5 L154.3,597.1 L162.1,597.6 L169.8,599.4 L177.6,599.2 L185.3,600.6 L193.1,600.7 L200.8,600.6 L208.6,600.1 L216.3,599.9 L224.1,600.9 L231.8,599.6 L239.6,598.4 L247.3,596.8 L255.1,595.3 L262.8,594.8 L270.6,596.2 L278.3,597.1 L286.0,597.7 L293.8,598.7 L301.5,598.8 L309.3,598.0 L317.0,595.6 L324.8,595.6 L332.5,593.8 L340.3,593.2 L348.0,593.7 L355.8,595.3 L363.5,595.6 L371.3,596.9 L379.0,594.8 L386.8,591.4 L394.5,589.6 L402.3,589.4 L410.0,590.3 L417.8,590.7 L425.5,591.8 L433.3,591.0 L441.0,589.7 L448.8,588.1 L456.5,589.4 L464.2,590.6 L472.0,592.5 L479.7,593.4 L487.5,594.1 L495.2,588.4 L503.0,587.0 L510.7,584.7 L518.5,584.1 L526.2,584.1 L534.0,588.7 L541.7,590.0 L549.5,588.9 L557.2,587.2 L565.0,587.0 L572.7,587.4 L580.5,586.8 L588.2,587.9 L596.0,589.3 L603.7,587.4 L611.5,582.0 L619.2,579.9 L627.0,581.6 L634.7,580.2 L642.5,580.9 L650.2,584.7 L658.0,585.9 L665.7,584.5 L673.4,585.9 L681.2,587.9 L688.9,590.0 L696.7,590.9 L704.4,593.1 L712.2,593.5 L719.9,592.2 L727.7,591.4 L735.4,591.7 L743.2,590.0 L750.9,590.1 L758.7,589.9 L766.4,587.4 L774.2,586.8 L781.9,586.4 L789.7,584.8 L797.4,583.4 L805.2,586.0 L812.9,585.4 L820.7,587.5 L828.4,588.2 L836.2,590.4 L843.9,590.4 L851.7,592.3 L859.4,591.9 L867.1,593.1 L874.9,591.3 L882.6,590.6 L890.4,589.9 L898.1,588.6 L905.9,588.0" fill="none" stroke="#e08a2a" stroke-width="1"/>
<path d="M76.85,59.00 L80.05,62.20 L76.85,65.40 L73.65,62.20Z" fill="#4a90e8"/>
<path d="M84.60,59.00 L87.80,62.20 L84.60,65.40 L81.40,62.20Z" fill="#4a90e8"/>
<path d="M92.35,59.00 L95.55,62.20 L92.35,65.40 L89.15,62.20Z" fill="#4a90e8"/>
<path d="M115.59,59.00 L118.79,62.20 L115.59,65.40 L112.39,62.20Z" fill="#4a90e8"/>
<path d="M138.83,59.00 L142.03,62.20 L138.83,65.40 L135.63,62.20Z" fill="#4a90e8"/>
<path d="M146.58,59.00 L149.78,62.20 L146.58,65.40 L143.38,62.20Z" fill="#4a90e8"/>
<path d="M169.83,59.00 L173.03,62.20 L169.83,65.40 L166.63,62.20Z" fill="#4a90e8"/>
<path d="M177.57,59.00 L180.77,62.20 L177.57,65.40 L174.37,62.20Z" fill="#4a90e8"/>
<path d="M200.82,59.00 L204.02,62.20 L200.82,65.40 L197.62,62.20Z" fill="#4a90e8"/>
<path d="M208.57,59.00 L211.77,62.20 L208.57,65.40 L205.37,62.20Z" fill="#4a90e8"/>
<path d="M216.31,59.00 L219.51,62.20 L216.31,65.40 L213.11,62.20Z" fill="#4a90e8"/>
<path d="M286.05,59.00 L289.25,62.20 L286.05,65.40 L282.85,62.20Z" fill="#4a90e8"/>
<path d="M301.54,59.00 L304.74,62.20 L301.54,65.40 L298.34,62.20Z" fill="#4a90e8"/>
<path d="M309.29,59.00 L312.49,62.20 L309.29,65.40 L306.09,62.20Z" fill="#4a90e8"/>
<path d="M324.79,59.00 L327.99,62.20 L324.79,65.40 L321.59,62.20Z" fill="#4a90e8"/>
<path d="M332.53,59.00 L335.73,62.20 L332.53,65.40 L329.33,62.20Z" fill="#4a90e8"/>
<path d="M386.77,59.00 L389.97,62.20 L386.77,65.40 L383.57,62.20Z" fill="#4a90e8"/>
<path d="M425.51,59.00 L428.71,62.20 L425.51,65.40 L422.31,62.20Z" fill="#4a90e8"/>
<path d="M557.23,59.00 L560.43,62.20 L557.23,65.40 L554.03,62.20Z" fill="#4a90e8"/>
<path d="M564.97,59.00 L568.17,62.20 L564.97,65.40 L561.77,62.20Z" fill="#4a90e8"/>
<path d="M572.72,59.00 L575.92,62.20 L572.72,65.40 L569.52,62.20Z" fill="#4a90e8"/>
<path d="M580.47,59.00 L583.67,62.20 L580.47,65.40 L577.27,62.20Z" fill="#4a90e8"/>
<path d="M588.22,59.00 L591.42,62.20 L588.22,65.40 L585.02,62.20Z" fill="#4a90e8"/>
<path d="M595.97,59.00 L599.17,62.20 L595.97,65.40 L592.77,62.20Z" fill="#4a90e8"/>
<path d="M603.71,59.00 L606.91,62.20 L603.71,65.40 L600.51,62.20Z" fill="#4a90e8"/>
<path d="M611.46,59.00 L614.66,62.20 L611.46,65.40 L608.26,62.20Z" fill="#4a90e8"/>
<path d="M619.21,59.00 L622.41,62.20 L619.21,65.40 L616.01,62.20Z" fill="#4a90e8"/>
<path d="M626.96,59.00 L630.16,62.20 L626.96,65.40 L623.76,62.20Z" fill="#4a90e8"/>
<path d="M634.71,59.00 L637.91,62.20 L634.71,65.40 L631.51,62.20Z" fill="#4a90e8"/>
<path d="M642.45,59.00 L645.65,62.20 L642.45,65.40 L639.25,62.20Z" fill="#4a90e8"/>
<path d="M650.20,59.00 L653.40,62.20 L650.20,65.40 L647.00,62.20Z" fill="#4a90e8"/>
<path d="M657.95,59.00 L661.15,62.20 L657.95,65.40 L654.75,62.20Z" fill="#4a90e8"/>
<path d="M665.70,59.00 L668.90,62.20 L665.70,65.40 L662.50,62.20Z" fill="#4a90e8"/>
<path d="M673.45,59.00 L676.65,62.20 L673.45,65.40 L670.25,62.20Z" fill="#4a90e8"/>
<path d="M688.94,59.00 L692.14,62.20 L688.94,65.40 L685.74,62.20Z" fill="#4a90e8"/>
<path d="M696.69,59.00 L699.89,62.20 L696.69,65.40 L693.49,62.20Z" fill="#4a90e8"/>
<path d="M743.18,59.00 L746.38,62.20 L743.18,65.40 L739.98,62.20Z" fill="#4a90e8"/>
<path d="M774.17,59.00 L777.37,62.20 L774.17,65.40 L770.97,62.20Z" fill="#4a90e8"/>
<path d="M781.92,59.00 L785.12,62.20 L781.92,65.40 L778.72,62.20Z" fill="#4a90e8"/>
<path d="M789.67,59.00 L792.87,62.20 L789.67,65.40 L786.47,62.20Z" fill="#4a90e8"/>
<path d="M874.89,59.00 L878.09,62.20 L874.89,65.40 L871.69,62.20Z" fill="#4a90e8"/>
<path d="M898.14,59.00 L901.34,62.20 L898.14,65.40 L894.94,62.20Z" fill="#4a90e8"/>
<path d="M905.89,59.00 L909.09,62.20 L905.89,65.40 L902.69,62.20Z" fill="#4a90e8"/>
<text x="62" y="87.9" font-size="12" fill="#9c9c9c" text-anchor="end">166.96</text>
<text x="952.4" y="87.9" font-size="12" fill="#9c9c9c">166.96</text>
<text x="62" y="117.8" font-size="12" fill="#9c9c9c" text-anchor="end">158.72</text>
<text x="952.4" y="117.8" font-size="12" fill="#9c9c9c">158.72</text>
<text x="62" y="147.6" font-size="12" fill="#9c9c9c" text-anchor="end">150.49</text>
<text x="952.4" y="147.6" font-size="12" fill="#9c9c9c">150.49</text>
<text x="62" y="207.3" font-size="12" fill="#9c9c9c" text-anchor="end">134.03</text>
<text x="952.4" y="207.3" font-size="12" fill="#9c9c9c">134.03</text>
<text x="62" y="237.2" font-size="12" fill="#9c9c9c" text-anchor="end">125.79</text>
<text x="952.4" y="237.2" font-size="12" fill="#9c9c9c">125.79</text>
<text x="62" y="267.1" font-size="12" fill="#9c9c9c" text-anchor="end">117.56</text>
<text x="952.4" y="267.1" font-size="12" fill="#9c9c9c">117.56</text>
<text x="62" y="296.9" font-size="12" fill="#9c9c9c" text-anchor="end">109.33</text>
<text x="952.4" y="296.9" font-size="12" fill="#9c9c9c">109.33</text>
<text x="62" y="326.8" font-size="12" fill="#9c9c9c" text-anchor="end">101.10</text>
<text x="952.4" y="326.8" font-size="12" fill="#9c9c9c">101.10</text>
<text x="62" y="356.6" font-size="12" fill="#9c9c9c" text-anchor="end">92.86</text>
<text x="952.4" y="356.6" font-size="12" fill="#9c9c9c">92.86</text>
<text x="62" y="386.5" font-size="12" fill="#9c9c9c" text-anchor="end">84.63</text>
<text x="952.4" y="386.5" font-size="12" fill="#9c9c9c">84.63</text>
<text x="62" y="416.4" font-size="12" fill="#9c9c9c" text-anchor="end">76.40</text>
<text x="952.4" y="416.4" font-size="12" fill="#9c9c9c">76.40</text>
<text x="62" y="446.2" font-size="12" fill="#9c9c9c" text-anchor="end">68.17</text>
<text x="952.4" y="446.2" font-size="12" fill="#9c9c9c">68.17</text>
<text x="62" y="476.1" font-size="12" fill="#9c9c9c" text-anchor="end">59.93</text>
<text x="952.4" y="476.1" font-size="12" fill="#9c9c9c">59.93</text>
<text x="62" y="505.9" font-size="12" fill="#9c9c9c" text-anchor="end">51.70</text>
<text x="952.4" y="505.9" font-size="12" fill="#9c9c9c">51.70</text>
<text x="62.5" y="183.3" font-size="12" fill="#e04040" text-anchor="end">140.70</text>
<text x="952.4" y="183.3" font-size="12" fill="#e04040">140.70</text>
<line x1="728" y1="87" x2="762" y2="77.5" stroke="#444" stroke-width="0.8"/>
<text x="763" y="81" font-size="12" fill="#9c9c9c">165.69</text>
<line x1="123" y1="502" x2="157" y2="513" stroke="#444" stroke-width="0.8"/>
<text x="157.5" y="517.5" font-size="12" fill="#9c9c9c">51.70</text>
<text x="156.4" y="620.7" font-size="12.4" fill="#9c9c9c">2022/05</text>
<text x="303" y="620.7" font-size="12.4" fill="#9c9c9c">6</text>
<text x="466" y="620.7" font-size="12.4" fill="#9c9c9c">7</text>
<text x="629" y="620.7" font-size="12.4" fill="#9c9c9c">8</text>
<text x="807" y="620.7" font-size="12.4" fill="#9c9c9c">9</text>
<text x="952" y="581.1" font-size="12" fill="#9c9c9c">4.704</text>
<text x="62" y="581" font-size="12" fill="#9c9c9c" text-anchor="end">4.704</text>
<text x="951.6" y="599.3" font-size="12.5" fill="#9c9c9c">万</text>
<text x="62.2" y="599.3" font-size="12.5" fill="#9c9c9c" text-anchor="end">万</text>
<text x="124" y="549.3" font-size="12" fill="#c8c8c8">MAVOL</text>
<path d="M179.2,542.6 L183.1,546.5 L187,542.6" fill="none" stroke="#6e7278" stroke-width="1.3"/>
<text x="199.9" y="549.3" font-size="12" fill="#e86a6a">VOL: 2.478</text>
<path d="M268,543 L274.3,543 L271.15,547.5Z" fill="#20b050"/>
<text x="338.2" y="549.3" font-size="12" fill="#e8963a">MAVOL5: 2.891</text>
<path d="M431.8,547.5 L438.6,547.5 L435.2,543Z" fill="#e84040"/>
<text x="509.3" y="549.3" font-size="12" fill="#35a8e0">MAVOL10: 2.489</text>
<path d="M610.7,543 L617.8,543 L614.25,547.5Z" fill="#20b050"/>
<text x="688.5" y="549.3" font-size="12" fill="#d070d0">MAVOL20: 2.802</text>
<path d="M789.2,547.5 L796,547.5 L792.6,543Z" fill="#e84040"/>
<rect x="10.75" y="6.75" width="14.5" height="14.5" rx="1.5" fill="none" stroke="#cfcfcf" stroke-width="1.5"/>
<rect x="13" y="9.2" width="1.4" height="9.3" fill="#cfcfcf"/>
<text x="35.2" y="18.7" font-size="14" fill="#3f8fe6">东威科技</text>
<text x="103.2" y="18.7" font-size="14" fill="#a6a6a6">分时</text>
<text x="144.6" y="18.7" font-size="14" fill="#a6a6a6">多日</text>
<text x="193.2" y="18.7" font-size="14" fill="#f0701e">日K</text>
<text x="235.6" y="18.7" font-size="14" fill="#a6a6a6">周K</text>
<text x="280.6" y="18.7" font-size="14" fill="#a6a6a6">月K</text>
<text x="324.6" y="18.7" font-size="14" fill="#a6a6a6">季K</text>
<text x="369.6" y="18.7" font-size="14" fill="#a6a6a6">年K</text>
<text x="414.6" y="18.7" font-size="14" fill="#a6a6a6">1分</text>
<text x="458.6" y="18.7" font-size="14" fill="#a6a6a6">3分</text>
<text x="503.6" y="18.7" font-size="14" fill="#a6a6a6">5分</text>
<text x="544.2" y="18.7" font-size="14" fill="#a6a6a6">10分</text>
<text x="605.6" y="18.7" font-size="14" fill="#a6a6a6">1天 : 1分K</text>
<text x="714.6" y="18.7" font-size="14" fill="#d6d6d6">显示</text>
<path d="M588.2,12.6 L592.2,16.6 L596.2,12.6" fill="none" stroke="#7c8289" stroke-width="1.3"/>
<path d="M676.2,12.6 L680.2,16.6 L684.2,12.6" fill="none" stroke="#7c8289" stroke-width="1.3"/>
<path d="M748.2,12.6 L752.2,16.6 L756.2,12.6" fill="none" stroke="#7c8289" stroke-width="1.3"/>
<path d="M816.6,12.6 L820.6,16.6 L824.6,12.6" fill="none" stroke="#7c8289" stroke-width="1.3"/>
<rect x="598.5" y="2.3" width="1" height="23.3" fill="#2c2c2c"/>
<rect x="760.2" y="2.3" width="1" height="23.3" fill="#2c2c2c"/>
<rect x="923.9" y="2.3" width="1" height="23.3" fill="#2c2c2c"/>
<circle cx="673.5" cy="1.3" r="3.8" fill="#d83a35"/>
<path d="M783.00,14.40 L783.00,14.63 L782.98,14.86 L782.96,15.09 L782.94,15.32 L783.03,15.57 L783.18,15.84 L783.33,16.13 L783.47,16.43 L783.60,16.74 L783.70,17.06 L783.72,17.36 L783.62,17.61 L783.50,17.86 L783.38,18.11 L783.24,18.35 L783.10,18.59 L782.95,18.82 L782.79,19.04 L782.63,19.26 L782.35,19.39 L782.03,19.47 L781.69,19.51 L781.36,19.54 L781.04,19.55 L780.73,19.56 L780.46,19.60 L780.28,19.74 L780.09,19.87 L779.90,20.00 L779.70,20.12 L779.50,20.23 L779.29,20.33 L779.08,20.43 L778.87,20.52 L778.70,20.72 L778.54,20.99 L778.37,21.26 L778.18,21.54 L777.97,21.81 L777.75,22.05 L777.50,22.22 L777.23,22.26 L776.95,22.28 L776.68,22.30 L776.40,22.30 L776.12,22.30 L775.85,22.28 L775.57,22.26 L775.30,22.22 L775.05,22.05 L774.83,21.81 L774.62,21.54 L774.43,21.26 L774.26,20.99 L774.10,20.72 L773.93,20.52 L773.72,20.43 L773.51,20.33 L773.30,20.23 L773.10,20.12 L772.90,20.00 L772.71,19.87 L772.52,19.74 L772.34,19.60 L772.07,19.56 L771.76,19.55 L771.44,19.54 L771.11,19.51 L770.77,19.47 L770.45,19.39 L770.17,19.26 L770.01,19.04 L769.85,18.82 L769.70,18.59 L769.56,18.35 L769.42,18.11 L769.30,17.86 L769.18,17.61 L769.08,17.36 L769.10,17.06 L769.20,16.74 L769.33,16.43 L769.47,16.13 L769.62,15.84 L769.77,15.57 L769.86,15.32 L769.84,15.09 L769.82,14.86 L769.80,14.63 L769.80,14.40 L769.80,14.17 L769.82,13.94 L769.84,13.71 L769.86,13.48 L769.77,13.23 L769.62,12.96 L769.47,12.67 L769.33,12.37 L769.20,12.06 L769.10,11.74 L769.08,11.44 L769.18,11.19 L769.30,10.94 L769.42,10.69 L769.56,10.45 L769.70,10.21 L769.85,9.98 L770.01,9.76 L770.17,9.54 L770.45,9.41 L770.77,9.33 L771.11,9.29 L771.44,9.26 L771.76,9.25 L772.07,9.24 L772.34,9.20 L772.52,9.06 L772.71,8.93 L772.90,8.80 L773.10,8.68 L773.30,8.57 L773.51,8.47 L773.72,8.37 L773.93,8.28 L774.10,8.08 L774.26,7.81 L774.43,7.54 L774.62,7.26 L774.83,6.99 L775.05,6.75 L775.30,6.58 L775.57,6.54 L775.85,6.52 L776.12,6.50 L776.40,6.50 L776.68,6.50 L776.95,6.52 L777.23,6.54 L777.50,6.58 L777.75,6.75 L777.97,6.99 L778.18,7.26 L778.37,7.54 L778.54,7.81 L778.70,8.08 L778.87,8.28 L779.08,8.37 L779.29,8.47 L779.50,8.57 L779.70,8.68 L779.90,8.80 L780.09,8.93 L780.28,9.06 L780.46,9.20 L780.73,9.24 L781.04,9.25 L781.36,9.26 L781.69,9.29 L782.03,9.33 L782.35,9.41 L782.63,9.54 L782.79,9.76 L782.95,9.98 L783.10,10.21 L783.24,10.45 L783.38,10.69 L783.50,10.94 L783.62,11.19 L783.72,11.44 L783.70,11.74 L783.60,12.06 L783.47,12.37 L783.33,12.67 L783.18,12.96 L783.03,13.23 L782.94,13.48 L782.96,13.71 L782.98,13.94 L783.00,14.17Z" fill="none" stroke="#7c8289" stroke-width="1.4"/>
<circle cx="776.4" cy="14.4" r="3.2" fill="none" stroke="#7c8289" stroke-width="1.4"/>
<rect x="797.7" y="6.6" width="14.9" height="14.8" rx="1" fill="none" stroke="#7c8289" stroke-width="1.4"/>
<path d="M844.2,10.8 L848.6,10.8 L849.6,7.9 L855.8,7.9 L856.8,10.8 L861.3,10.8 L861.3,21.2 L844.2,21.2 Z" fill="none" stroke="#7c8289" stroke-width="1.4" stroke-linejoin="round"/>
<circle cx="852.6" cy="15.2" r="3.1" fill="none" stroke="#7c8289" stroke-width="1.4"/>
<path d="M874,18 L884.3,7.7 Q885.3,6.9 886.3,7.7 L888.2,9.6 Q889,10.6 888.2,11.6 L877.9,21.9 L874,21.9 Z M881.9,10.1 L885.8,14" fill="none" stroke="#7c8289" stroke-width="1.4" stroke-linejoin="round"/>
<path d="M901.6,12 L901.6,7.8 L905.8,7.8 M901.8,8 L906.3,12.5 M917.2,12 L917.2,7.8 L913,7.8 M917,8 L912.5,12.5 M901.6,18.8 L901.6,23 L905.8,23 M901.8,22.8 L906.3,18.3 M917.2,18.8 L917.2,23 L913,23 M917,22.8 L912.5,18.3" fill="none" stroke="#7c8289" stroke-width="1.5"/>
<path d="M928.2,7.4 L932.4,21 L936.6,7.4" fill="none" stroke="#7c8289" stroke-width="1.4"/>
<path d="M946.6,9.2 Q945.4,7.4 942.8,7.4 Q938.9,7.4 938.9,10.8 Q938.9,13.4 942.8,14.2 Q946.9,15 946.9,17.8 Q946.9,21.2 942.6,21.2 Q939.6,21.2 938.5,19" fill="none" stroke="#7c8289" stroke-width="1.4"/>
<path d="M962.2,8.1 L955.9,8.1 L955.9,21 M955.9,14.3 L961.3,14.3" fill="none" stroke="#7c8289" stroke-width="1.4"/>
<path d="M966.4,7.4 L966.4,21" fill="none" stroke="#7c8289" stroke-width="1.5"/>
<rect x="970.7" y="8.1" width="7" height="12.6" rx="2.2" fill="none" stroke="#7c8289" stroke-width="1.4"/>
<rect x="986.7" y="7.9" width="20" height="15" rx="1.5" fill="none" stroke="#7c8289" stroke-width="1.4"/>
<rect x="997.3" y="11.2" width="1.4" height="8.4" fill="#7c8289"/>
<text x="891" y="48.2" font-size="14" fill="#3f8fe6">前复权</text>
<path d="M952.4,41.8 L948.8,38.4 L956,38.4 A6.2,6.2 0 0 1 956,50.8 L948.6,50.8" fill="none" stroke="#7c8289" stroke-width="1.4" stroke-linecap="round" stroke-linejoin="round"/>
<circle cx="976.3" cy="44.4" r="7" fill="none" stroke="#7c8289" stroke-width="1.3"/>
<path d="M972.8,44.4 L979.8,44.4" stroke="#7c8289" stroke-width="1.3"/>
<circle cx="997.5" cy="44.4" r="7" fill="none" stroke="#7c8289" stroke-width="1.3"/>
<path d="M994,44.4 L1001,44.4 M997.5,40.9 L997.5,47.9" stroke="#7c8289" stroke-width="1.3"/>
<path d="M87.60,545.30 L87.60,545.51 L87.59,545.72 L87.57,545.93 L87.54,546.14 L87.64,546.36 L87.79,546.62 L87.95,546.88 L88.10,547.16 L88.23,547.45 L88.34,547.75 L88.37,548.03 L88.27,548.27 L88.16,548.50 L88.05,548.73 L87.92,548.95 L87.79,549.17 L87.65,549.38 L87.51,549.59 L87.35,549.79 L87.09,549.91 L86.78,549.96 L86.46,549.99 L86.14,550.01 L85.83,550.00 L85.54,550.00 L85.29,550.03 L85.13,550.15 L84.96,550.27 L84.78,550.39 L84.60,550.50 L84.42,550.60 L84.23,550.69 L84.04,550.78 L83.85,550.86 L83.70,551.06 L83.56,551.32 L83.40,551.59 L83.24,551.86 L83.05,552.12 L82.85,552.36 L82.62,552.53 L82.36,552.56 L82.11,552.58 L81.85,552.60 L81.60,552.60 L81.35,552.60 L81.09,552.58 L80.84,552.56 L80.58,552.53 L80.35,552.36 L80.15,552.12 L79.96,551.86 L79.80,551.59 L79.64,551.32 L79.50,551.06 L79.35,550.86 L79.16,550.78 L78.97,550.69 L78.78,550.60 L78.60,550.50 L78.42,550.39 L78.24,550.27 L78.07,550.15 L77.91,550.03 L77.66,550.00 L77.37,550.00 L77.06,550.01 L76.74,549.99 L76.42,549.96 L76.11,549.91 L75.85,549.79 L75.69,549.59 L75.55,549.38 L75.41,549.17 L75.28,548.95 L75.15,548.73 L75.04,548.50 L74.93,548.27 L74.83,548.03 L74.86,547.75 L74.97,547.45 L75.10,547.16 L75.25,546.88 L75.41,546.62 L75.56,546.36 L75.66,546.14 L75.63,545.93 L75.61,545.72 L75.60,545.51 L75.60,545.30 L75.60,545.09 L75.61,544.88 L75.63,544.67 L75.66,544.46 L75.56,544.24 L75.41,543.98 L75.25,543.72 L75.10,543.44 L74.97,543.15 L74.86,542.85 L74.83,542.57 L74.93,542.33 L75.04,542.10 L75.15,541.87 L75.28,541.65 L75.41,541.43 L75.55,541.22 L75.69,541.01 L75.85,540.81 L76.11,540.69 L76.42,540.64 L76.74,540.61 L77.06,540.59 L77.37,540.60 L77.66,540.60 L77.91,540.57 L78.07,540.45 L78.24,540.33 L78.42,540.21 L78.60,540.10 L78.78,540.00 L78.97,539.91 L79.16,539.82 L79.35,539.74 L79.50,539.54 L79.64,539.28 L79.80,539.01 L79.96,538.74 L80.15,538.48 L80.35,538.24 L80.58,538.07 L80.84,538.04 L81.09,538.02 L81.35,538.00 L81.60,538.00 L81.85,538.00 L82.11,538.02 L82.36,538.04 L82.62,538.07 L82.85,538.24 L83.05,538.48 L83.24,538.74 L83.40,539.01 L83.56,539.28 L83.70,539.54 L83.85,539.74 L84.04,539.82 L84.23,539.91 L84.42,540.00 L84.60,540.10 L84.78,540.21 L84.96,540.33 L85.13,540.45 L85.29,540.57 L85.54,540.60 L85.83,540.60 L86.14,540.59 L86.46,540.61 L86.78,540.64 L87.09,540.69 L87.35,540.81 L87.51,541.01 L87.65,541.22 L87.79,541.43 L87.92,541.65 L88.05,541.87 L88.16,542.10 L88.27,542.33 L88.37,542.57 L88.34,542.85 L88.23,543.15 L88.10,543.44 L87.95,543.72 L87.79,543.98 L87.64,544.24 L87.54,544.46 L87.57,544.67 L87.59,544.88 L87.60,545.09Z" fill="none" stroke="#7c8289" stroke-width="1.3"/>
<circle cx="81.6" cy="545.3" r="2.4" fill="none" stroke="#7c8289" stroke-width="1.3"/>
<circle cx="106.8" cy="545.3" r="7" fill="none" stroke="#7c8289" stroke-width="1.3"/>
<path d="M104,542.5 L109.6,548.1 M109.6,542.5 L104,548.1" stroke="#7c8289" stroke-width="1.3"/>
<circle cx="340.5" cy="521.2" r="7.6" fill="none" stroke="#4a8fe0" stroke-width="1.5"/>
<circle cx="340.5" cy="521.2" r="4" fill="none" stroke="#4a8fe0" stroke-width="1.5"/>
<path d="M342.6,523.4 L344.6,525.4" stroke="#4a8fe0" stroke-width="1.8"/>
<path d="M933,607.6 Q933,605.6 935,605.6 L949.4,605.6 L949.4,611.4 L945.8,611.4 L945.8,609.2 L936.6,609.2 L936.6,618.5 L944.2,618.5 L944.2,622 L935,622 Q933,622 933,620 Z" fill="#d4d4d4"/>
<path d="M940.2,613.1 L949.4,613.1 L949.4,622.3 Z" fill="#d4d4d4"/>
<text x="953.3" y="620" font-size="14" fill="#d4d4d4" stroke="#d4d4d4" stroke-width="0.3">格隆汇</text>
</svg>
</body></html>
